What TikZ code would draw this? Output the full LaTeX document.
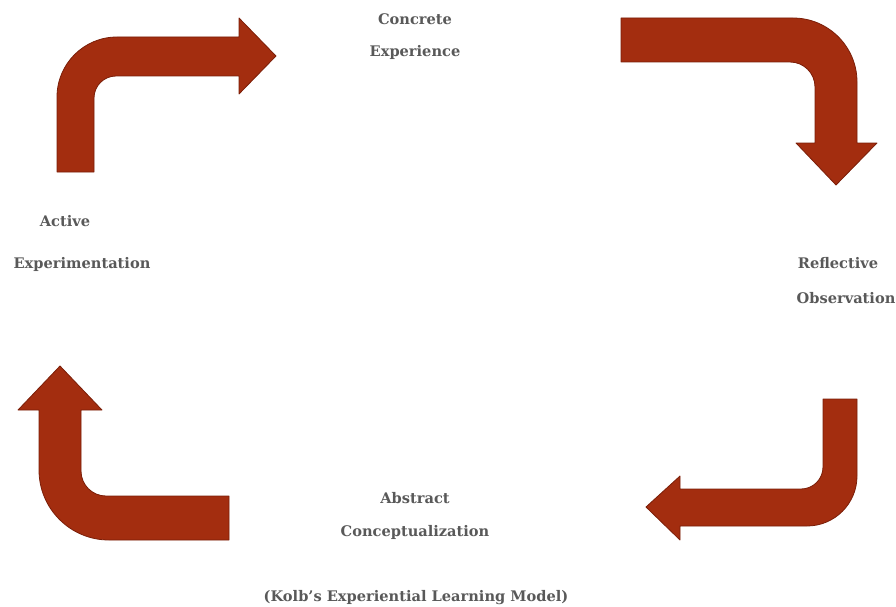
\documentclass[tikz,border=0pt]{standalone}
\usepackage{fontspec}
\setmainfont{DejaVu Serif}
\usepackage{tikz}
\usetikzlibrary{positioning}
\definecolor{rust}{RGB}{163,45,15}
\definecolor{rustedge}{RGB}{122,30,8}
\definecolor{textgray}{RGB}{89,89,89}

\begin{document}
\begin{tikzpicture}[
			x=1pt, y=-1pt,
			bentarrow/.style={fill=rust, draw=rustedge, line width=0.8pt, line join=round},
			every node/.style={inner sep=0pt, text=textgray, font=\bfseries\fontsize{14.6}{17}\selectfont}
		]
		\useasboundingbox (0,0) rectangle (896,607);

		% --- Labels ---
		\node (concrete) at (415,19) {Concrete};
		\node (experience) at (415,52) {Experience};
		\node (active) at (65,221) {Active};
		\node (experimentation) at (82,264) {Experimentation};
		\node (reflective) at (838,263) {Reflective};
		\node (observation) at (846,298) {Observation};
		\node (abstract) at (415,498) {Abstract};
		\node (conceptualization) at (415,532) {Conceptualization};
		\node (caption) at (416,598) {(Kolb’s Experiential Learning Model)};

		% --- Arrow top left ---
		\draw[bentarrow] (57,172) -- (57,97) arc[start angle=180, end angle=90, radius=60pt]
			-- (239,37) -- (239,18) -- (276,56) -- (239,94) -- (239,76)
			-- (116,76) arc[start angle=90, end angle=180, radius=22pt] -- (94,172) -- cycle;

		% --- Arrow top right ---
		\draw[bentarrow] (621,18) -- (793,18) arc[start angle=90, end angle=0, radius=64pt]
			-- (857,143) -- (877,143) -- (836,185) -- (796,143) -- (815,143)
			-- (815,87) arc[start angle=0, end angle=90, radius=25pt] -- (621,62) -- cycle;

		% --- Arrow bottom right ---
		\draw[bentarrow] (823,399) -- (857,399) -- (857,476) arc[start angle=0, end angle=-90, radius=50pt]
			-- (680,526) -- (680,540) -- (646,507) -- (680,476) -- (680,489)
			-- (801,489) arc[start angle=-90, end angle=0, radius=22pt] -- cycle;

		% --- Arrow bottom left ---
		\draw[bentarrow] (229,540) -- (109,540) arc[start angle=270, end angle=180, radius=70pt]
			-- (39,410) -- (18,410) -- (60,366) -- (102,410) -- (81,410)
			-- (81,471) arc[start angle=180, end angle=270, radius=25pt] -- (229,496) -- cycle;

	\end{tikzpicture}
\end{document}
